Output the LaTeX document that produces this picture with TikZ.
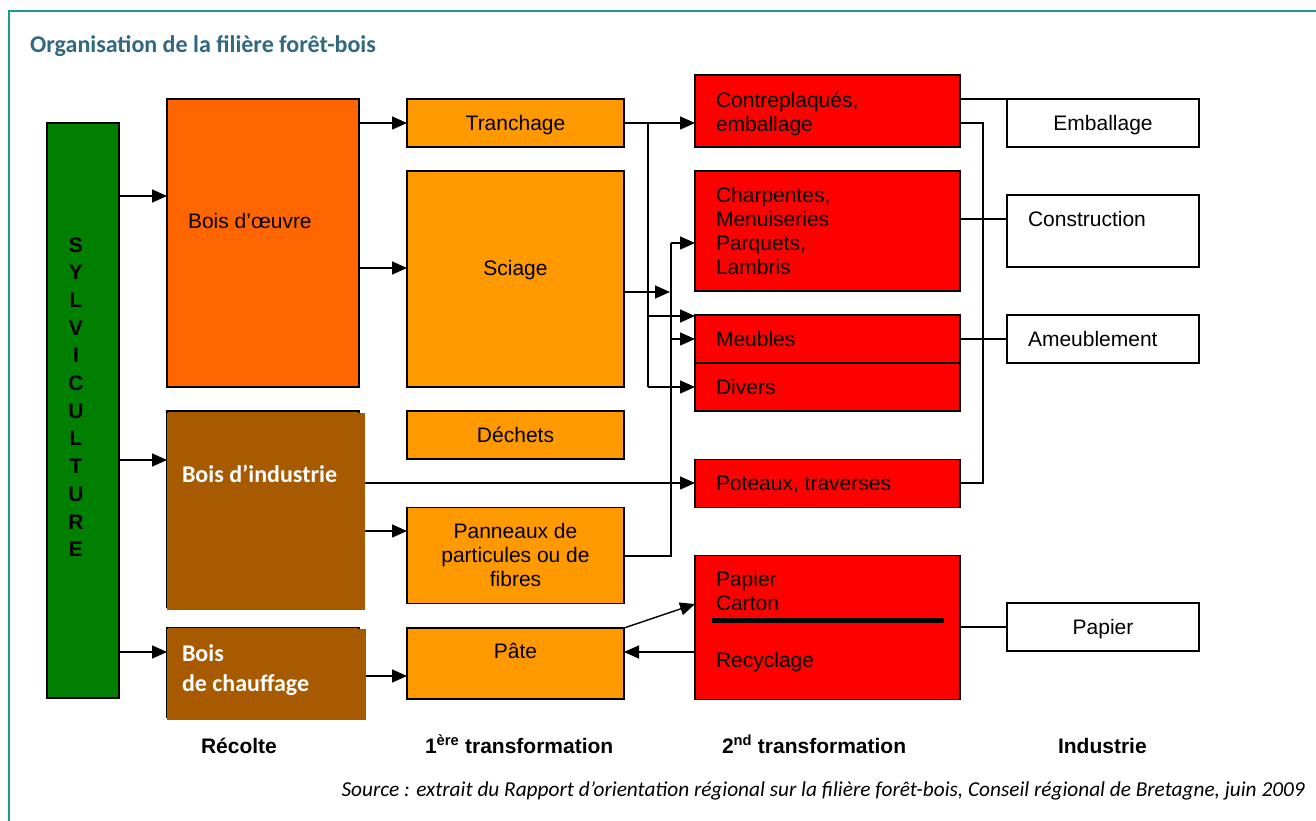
\documentclass[tikz,border=0pt]{standalone}
\usepackage{fontspec}
\setmainfont{Liberation Sans}
\newfontfamily\calfont{Carlito}
\usetikzlibrary{arrows.meta}
\definecolor{framec}{HTML}{1E9A8C}
\definecolor{titlec}{HTML}{31687F}
\definecolor{oDark}{HTML}{FF6600}
\definecolor{oLight}{HTML}{FF9900}
\definecolor{redb}{HTML}{FF0000}
\definecolor{greenb}{HTML}{007F00}
\definecolor{brownb}{HTML}{A85A00}
\begin{document}
\begin{tikzpicture}[x=1pt,y=-1pt,
  box/.style={draw=black, line width=1.4pt, inner sep=0pt, outer sep=0pt, anchor=north west},
  conn/.style={line width=1.4pt},
  arr/.style={conn, -{Triangle[length=15pt,width=13pt]}},
  txt/.style={inner sep=0pt, outer sep=0pt, font=\fontsize{21}{24}\selectfont},
  ltxt/.style={txt, anchor=base west, align=left},
  ctxt/.style={txt, anchor=base, align=center},
  wtxt/.style={inner sep=0pt, outer sep=0pt, anchor=base west, text=white, align=left,
    font=\calfont\bfseries\fontsize{24}{30}\selectfont},
  btxt/.style={inner sep=0pt, outer sep=0pt, anchor=base west, font=\bfseries\fontsize{21}{24}\selectfont}
]
\useasboundingbox (0,0) rectangle (1316,821);
\fill[white] (0,0) rectangle (1316,821);
% frame
\draw[framec, line width=2pt] (1316,11) -- (9,11) -- (9,821);
\node[inner sep=0pt, anchor=base west, text=titlec, font=\calfont\bfseries\fontsize{24}{28}\selectfont] (title) at (30,53) {Organisation de la filière forêt-bois};

% column 1
\node[box, fill=greenb, minimum width=72pt, minimum height=575pt] (gr) at (47,123) {};
\node[inner sep=0pt, anchor=base, align=center, font=\bfseries\fontsize{21}{27.7}\selectfont] (grt) at (76,556.7) {S\\Y\\L\\V\\I\\C\\U\\L\\T\\U\\R\\E};

% column 2 (récolte)
\node[box, fill=oDark, minimum width=192pt, minimum height=288pt] (bo) at (167,99) {};
\node[box, fill=brownb, minimum width=192pt, minimum height=196pt] (biO) at (167,411) {};
\node[box, draw=none, fill=brownb, minimum width=198pt, minimum height=197pt] (bi) at (167,413) {};
\node[box, fill=brownb, minimum width=192pt, minimum height=90pt] (bcO) at (167,627.5) {};
\node[box, draw=none, fill=brownb, minimum width=199pt, minimum height=91pt] (bc) at (167,629) {};
\node[ltxt] (bot) at (188,228.5) {Bois d’œuvre};
\node[wtxt] (bit) at (182,482) {Bois d’industrie};
\node[wtxt] (bct) at (182,691) {Bois\\de chauffage};

% column 3 (1re transformation)
\node[box, fill=oLight, minimum width=217pt, minimum height=48pt] (tr) at (407,99) {};
\node[box, fill=oLight, minimum width=217pt, minimum height=216pt] (sc) at (407,171) {};
\node[box, fill=oLight, minimum width=217pt, minimum height=48pt] (de) at (407,411) {};
\node[box, fill=oLight, minimum width=217pt, minimum height=96pt] (pa) at (407,507.5) {};
\node[box, fill=oLight, minimum width=217pt, minimum height=71pt] (pt) at (407,628) {};
\node[ctxt] (trt) at (515.5,130.5) {Tranchage};
\node[ctxt] (sct) at (515.5,275.5) {Sciage};
\node[ctxt] (det) at (515.5,442.5) {Déchets};
\node[ctxt] (pat) at (515.5,586.5) {Panneaux de\\particules ou de\\fibres};
\node[ctxt] (ptt) at (515.5,658.5) {Pâte};

% column 4 (2nd transformation)
\node[box, fill=redb, minimum width=265pt, minimum height=72pt] (cp) at (695,75) {};
\node[box, fill=redb, minimum width=265pt, minimum height=120pt] (ch) at (695,171) {};
\node[box, fill=redb, minimum width=265pt, minimum height=48pt] (me) at (695,315) {};
\node[box, fill=redb, minimum width=265pt, minimum height=48pt] (dv) at (695,363) {};
\node[box, fill=redb, minimum width=265pt, minimum height=48pt] (po) at (695,459.5) {};
\node[box, fill=redb, minimum width=265pt, minimum height=144pt] (pp) at (695,555.5) {};
\draw[line width=5pt] (712,620) -- (944,620);
\node[ltxt] (cpt) at (716,131.5) {Contreplaqués,\\emballage};
\node[ltxt] (cht) at (716,274.5) {Charpentes,\\Menuiseries\\Parquets,\\Lambris};
\node[ltxt] (met) at (716,346.5) {Meubles};
\node[ltxt] (dvt) at (716,394.5) {Divers};
\node[ltxt] (pot) at (716,490.5) {Poteaux, traverses};
\node[ltxt] (ppt) at (716,610.5) {Papier\\Carton};
\node[ltxt] (rct) at (716,667.5) {Recyclage};

% column 5 (industrie)
\node[box, fill=white, minimum width=192pt, minimum height=48pt] (em) at (1007,99) {};
\node[box, fill=white, minimum width=192pt, minimum height=72pt] (co) at (1007,195) {};
\node[box, fill=white, minimum width=192pt, minimum height=48pt] (am) at (1007,315) {};
\node[box, fill=white, minimum width=192pt, minimum height=48pt] (pap) at (1007,603) {};
\node[ctxt] (emt) at (1103,130.5) {Emballage};
\node[ltxt] (cot) at (1028,226.5) {Construction};
\node[ltxt] (amt) at (1028,346.5) {Ameublement};
\node[ctxt] (papt) at (1103,634.5) {Papier};

% connectors: sylviculture -> récolte
\draw[arr] (gr.east |- 0,196) -- (bo.west |- 0,196);
\draw[arr] (gr.east |- 0,460) -- (bi.west |- 0,460);
\draw[arr] (gr.east |- 0,652) -- (bc.west |- 0,652);
% récolte -> 1re transformation
\draw[arr] (bo.east |- 0,123) -- (tr.west |- 0,123);
\draw[arr] (bo.east |- 0,268) -- (sc.west |- 0,268);
\draw[arr] (bi.east |- 0,531) -- (pa.west |- 0,531);
\draw[arr] (bc.east |- 0,676) -- (pt.west |- 0,676);
\draw[arr] (bi.east |- 0,483) -- (po.west |- 0,483);
% 1re -> 2nd transformation
\coordinate (jA) at (648,123);
\coordinate (jB) at (671,243);
\draw[arr] (tr.east |- 0,123) -- (cp.west |- 0,123);
\draw[conn] (jA) -- (648,387);
\draw[arr] (648,316) -- (me.west |- 0,316);
\draw[arr] (648,387) -- (dv.west |- 0,387);
\draw[arr] (sc.east |- 0,292) -- (670,292);
\draw[conn] (pa.east |- 0,556) -- (671,556) -- (jB);
\draw[arr] (jB) -- (ch.west |- 0,243);
\draw[arr] (671,339) -- (me.west |- 0,339);
\draw[arr] (pt.north east) -- (pp.west |- 0,604);
\draw[arr] (pp.west |- 0,652) -- (pt.east |- 0,652);
% 2nd transformation -> industrie
\draw[conn] (cp.east |- 0,99) -- (em.north west);
\draw[conn] (cp.east |- 0,123) -- (983,123) -- (983,483) -- (po.east |- 0,483);
\draw[conn] (ch.east |- 0,219) -- (co.west |- 0,219);
\draw[conn] (me.east |- 0,339) -- (am.west |- 0,339);
\draw[conn] (pp.east |- 0,627) -- (pap.west |- 0,627);

% column labels
\node[btxt] (l1) at (201,753.5) {Récolte};
\node[btxt] (l2) at (425,753.5) {1\textsuperscript{ère} transformation};
\node[btxt] (l3) at (722,753.5) {2\textsuperscript{nd} transformation};
\node[btxt] (l4) at (1058,753.5) {Industrie};
\node[inner sep=0pt, anchor=base east, font=\calfont\itshape\fontsize{21.3}{24}\selectfont] (src) at (1305,796) {Source : extrait du Rapport d’orientation régional sur la filière forêt-bois, Conseil régional de Bretagne, juin 2009};
\end{tikzpicture}
\end{document}
